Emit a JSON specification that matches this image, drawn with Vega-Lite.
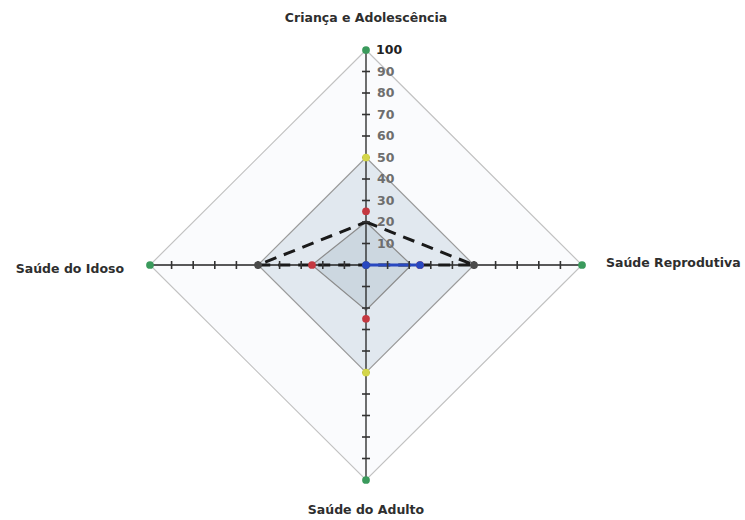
{
  "$schema": "https://vega.github.io/schema/vega-lite/v6.json",
  "autosize": {"type": "none"},
  "padding": {"left": 150, "top": 50, "right": 163, "bottom": 40},
  "width": 432,
  "height": 430,
  "background": "white",
  "config": {"view": {"stroke": null}},
  "data": {"values": [
    {"kind": "ring100", "axis": "T", "v": 100, "i": 0},
    {"kind": "ring100", "axis": "R", "v": 100, "i": 1},
    {"kind": "ring100", "axis": "B", "v": 100, "i": 2},
    {"kind": "ring100", "axis": "L", "v": 100, "i": 3},
    {"kind": "ring100", "axis": "T", "v": 100, "i": 4},
    {"kind": "ring50", "axis": "T", "v": 50, "i": 0},
    {"kind": "ring50", "axis": "R", "v": 50, "i": 1},
    {"kind": "ring50", "axis": "B", "v": 50, "i": 2},
    {"kind": "ring50", "axis": "L", "v": 50, "i": 3},
    {"kind": "ring50", "axis": "T", "v": 50, "i": 4},
    {"kind": "inner", "axis": "T", "v": 20, "i": 0},
    {"kind": "inner", "axis": "R", "v": 21, "i": 1},
    {"kind": "inner", "axis": "B", "v": 21, "i": 2},
    {"kind": "inner", "axis": "L", "v": 25, "i": 3},
    {"kind": "inner", "axis": "T", "v": 20, "i": 4},
    {"kind": "spoke", "series": "h", "axis": "L", "v": 100, "i": 0},
    {"kind": "spoke", "series": "h", "axis": "R", "v": 100, "i": 1},
    {"kind": "spoke", "series": "v", "axis": "T", "v": 100, "i": 0},
    {"kind": "spoke", "series": "v", "axis": "B", "v": 100, "i": 1},
    {"kind": "dash", "axis": "T", "v": 20, "i": 0},
    {"kind": "dash", "axis": "R", "v": 50, "i": 1},
    {"kind": "dash", "axis": "B", "v": 0, "i": 2},
    {"kind": "dash", "axis": "L", "v": 50, "i": 3},
    {"kind": "dash", "axis": "T", "v": 20, "i": 4},
    {"kind": "blue", "axis": "T", "v": 0, "i": 0},
    {"kind": "blue", "axis": "R", "v": 25, "i": 1},
    {"kind": "blue", "axis": "B", "v": 0, "i": 2},
    {"kind": "blue", "axis": "L", "v": 0, "i": 3},
    {"kind": "blue", "axis": "T", "v": 0, "i": 4},
    {"kind": "pt", "series": "verde", "axis": "T", "v": 100},
    {"kind": "pt", "series": "verde", "axis": "R", "v": 100},
    {"kind": "pt", "series": "verde", "axis": "B", "v": 100},
    {"kind": "pt", "series": "verde", "axis": "L", "v": 100},
    {"kind": "pt", "series": "amarelo", "axis": "T", "v": 50},
    {"kind": "pt", "series": "amarelo", "axis": "B", "v": 50},
    {"kind": "pt", "series": "vermelho", "axis": "T", "v": 25},
    {"kind": "pt", "series": "vermelho", "axis": "R", "v": 25},
    {"kind": "pt", "series": "vermelho", "axis": "B", "v": 25},
    {"kind": "pt", "series": "vermelho", "axis": "L", "v": 25},
    {"kind": "pt", "series": "cinza", "axis": "R", "v": 50},
    {"kind": "pt", "series": "cinza", "axis": "B", "v": 0},
    {"kind": "pt", "series": "cinza", "axis": "L", "v": 50},
    {"kind": "pt", "series": "azul", "axis": "B", "v": 0},
    {"kind": "pt", "series": "azul", "axis": "R", "v": 25},
    {"kind": "tick", "axis": "T", "v": 10}, {"kind": "tick", "axis": "T", "v": 20}, {"kind": "tick", "axis": "T", "v": 30},
    {"kind": "tick", "axis": "T", "v": 40}, {"kind": "tick", "axis": "T", "v": 50}, {"kind": "tick", "axis": "T", "v": 60},
    {"kind": "tick", "axis": "T", "v": 70}, {"kind": "tick", "axis": "T", "v": 80}, {"kind": "tick", "axis": "T", "v": 90},
    {"kind": "tick", "axis": "B", "v": 10}, {"kind": "tick", "axis": "B", "v": 20}, {"kind": "tick", "axis": "B", "v": 30},
    {"kind": "tick", "axis": "B", "v": 40}, {"kind": "tick", "axis": "B", "v": 50}, {"kind": "tick", "axis": "B", "v": 60},
    {"kind": "tick", "axis": "B", "v": 70}, {"kind": "tick", "axis": "B", "v": 80}, {"kind": "tick", "axis": "B", "v": 90},
    {"kind": "tick", "axis": "L", "v": 10}, {"kind": "tick", "axis": "L", "v": 20}, {"kind": "tick", "axis": "L", "v": 30},
    {"kind": "tick", "axis": "L", "v": 40}, {"kind": "tick", "axis": "L", "v": 50}, {"kind": "tick", "axis": "L", "v": 60},
    {"kind": "tick", "axis": "L", "v": 70}, {"kind": "tick", "axis": "L", "v": 80}, {"kind": "tick", "axis": "L", "v": 90},
    {"kind": "tick", "axis": "R", "v": 10}, {"kind": "tick", "axis": "R", "v": 20}, {"kind": "tick", "axis": "R", "v": 30},
    {"kind": "tick", "axis": "R", "v": 40}, {"kind": "tick", "axis": "R", "v": 50}, {"kind": "tick", "axis": "R", "v": 60},
    {"kind": "tick", "axis": "R", "v": 70}, {"kind": "tick", "axis": "R", "v": 80}, {"kind": "tick", "axis": "R", "v": 90},
    {"kind": "lab", "axis": "T", "v": 10, "t": "10"}, {"kind": "lab", "axis": "T", "v": 20, "t": "20"},
    {"kind": "lab", "axis": "T", "v": 30, "t": "30"}, {"kind": "lab", "axis": "T", "v": 40, "t": "40"},
    {"kind": "lab", "axis": "T", "v": 50, "t": "50"}, {"kind": "lab", "axis": "T", "v": 60, "t": "60"},
    {"kind": "lab", "axis": "T", "v": 70, "t": "70"}, {"kind": "lab", "axis": "T", "v": 80, "t": "80"},
    {"kind": "lab", "axis": "T", "v": 90, "t": "90"},
    {"kind": "lab100", "axis": "T", "v": 100, "t": "100"},
    {"kind": "cat", "axis": "T", "v": 100, "t": "Criança e Adolescência"},
    {"kind": "cat", "axis": "R", "v": 100, "t": "Saúde Reprodutiva"},
    {"kind": "cat", "axis": "B", "v": 100, "t": "Saúde do Adulto"},
    {"kind": "cat", "axis": "L", "v": 100, "t": "Saúde do Idoso"}
  ]},
  "transform": [
    {"calculate": "datum.axis === 'R' ? datum.v : datum.axis === 'L' ? -datum.v : 0", "as": "x"},
    {"calculate": "datum.axis === 'T' ? datum.v : datum.axis === 'B' ? -datum.v : 0", "as": "y"}
  ],
  "encoding": {
    "x": {"field": "x", "type": "quantitative", "scale": {"domain": [-100, 100], "nice": false, "zero": false}, "axis": null},
    "y": {"field": "y", "type": "quantitative", "scale": {"domain": [-100, 100], "nice": false, "zero": false}, "axis": null}
  },
  "layer": [
    {"transform": [{"filter": "datum.kind === 'ring100'"}],
     "mark": {"type": "line", "fill": "#fafbfd", "stroke": "#c2c2c2", "strokeWidth": 1.2},
     "encoding": {"order": {"field": "i", "type": "quantitative"}}},
    {"transform": [{"filter": "datum.kind === 'ring50'"}],
     "mark": {"type": "line", "fill": "#e1e8ef", "stroke": "#9c9c9c", "strokeWidth": 1.2},
     "encoding": {"order": {"field": "i", "type": "quantitative"}}},
    {"transform": [{"filter": "datum.kind === 'inner'"}],
     "mark": {"type": "line", "fill": "#ccd7e0", "stroke": "#8c8c8c", "strokeWidth": 1.2},
     "encoding": {"order": {"field": "i", "type": "quantitative"}}},
    {"transform": [{"filter": "datum.kind === 'spoke'"}],
     "mark": {"type": "line", "stroke": "#222222", "strokeWidth": 1.3},
     "encoding": {"order": {"field": "i", "type": "quantitative"}, "detail": {"field": "series"}}},
    {"transform": [{"filter": "datum.kind === 'dash'"}],
     "mark": {"type": "line", "stroke": "#1a1a1a", "strokeWidth": 3, "strokeDash": [12, 8]},
     "encoding": {"order": {"field": "i", "type": "quantitative"}}},
    {"transform": [{"filter": "datum.kind === 'blue'"}],
     "mark": {"type": "line", "stroke": "#2848c0", "strokeWidth": 3},
     "encoding": {"order": {"field": "i", "type": "quantitative"}}},
    {"transform": [{"filter": "datum.kind === 'tick' && (datum.axis === 'T' || datum.axis === 'B')"}],
     "mark": {"type": "tick", "orient": "horizontal", "size": 8, "thickness": 1.6, "color": "#333333", "opacity": 1}},
    {"transform": [{"filter": "datum.kind === 'tick' && (datum.axis === 'L' || datum.axis === 'R')"}],
     "mark": {"type": "tick", "orient": "vertical", "size": 8, "thickness": 1.6, "color": "#333333", "opacity": 1}},
    {"transform": [{"filter": "datum.kind === 'pt'"}],
     "mark": {"type": "point", "shape": "circle", "filled": true, "size": 60, "opacity": 1},
     "encoding": {"color": {"field": "series", "type": "nominal", "legend": null,
        "scale": {"domain": ["verde", "amarelo", "vermelho", "cinza", "azul"], "range": ["#3a9a5c", "#d4d64a", "#c43840", "#4a4a4a", "#2848c0"]}}}},
    {"transform": [{"filter": "datum.kind === 'lab'"}],
     "mark": {"type": "text", "align": "left", "baseline": "middle", "dx": 11, "font": "DejaVu Sans", "fontWeight": "bold", "fontSize": 12.5, "fill": "#6e6e6e"},
     "encoding": {"text": {"field": "t"}}},
    {"transform": [{"filter": "datum.kind === 'lab100'"}],
     "mark": {"type": "text", "align": "left", "baseline": "middle", "dx": 10, "font": "DejaVu Sans", "fontWeight": "bold", "fontSize": 12.5, "fill": "#222222"},
     "encoding": {"text": {"field": "t"}}},
    {"transform": [{"filter": "datum.kind === 'cat' && datum.axis === 'T'"}],
     "mark": {"type": "text", "align": "center", "baseline": "middle", "dy": -32, "font": "DejaVu Sans", "fontWeight": "bold", "fontSize": 12.5, "fill": "#2e2e2e"},
     "encoding": {"text": {"field": "t"}}},
    {"transform": [{"filter": "datum.kind === 'cat' && datum.axis === 'B'"}],
     "mark": {"type": "text", "align": "center", "baseline": "middle", "dy": 30, "font": "DejaVu Sans", "fontWeight": "bold", "fontSize": 12.5, "fill": "#2e2e2e"},
     "encoding": {"text": {"field": "t"}}},
    {"transform": [{"filter": "datum.kind === 'cat' && datum.axis === 'R'"}],
     "mark": {"type": "text", "align": "left", "baseline": "middle", "dx": 24, "dy": -2, "font": "DejaVu Sans", "fontWeight": "bold", "fontSize": 12.5, "fill": "#2e2e2e"},
     "encoding": {"text": {"field": "t"}}},
    {"transform": [{"filter": "datum.kind === 'cat' && datum.axis === 'L'"}],
     "mark": {"type": "text", "align": "right", "baseline": "middle", "dx": -26, "dy": 4, "font": "DejaVu Sans", "fontWeight": "bold", "fontSize": 12.5, "fill": "#2e2e2e"},
     "encoding": {"text": {"field": "t"}}}
  ]
}
